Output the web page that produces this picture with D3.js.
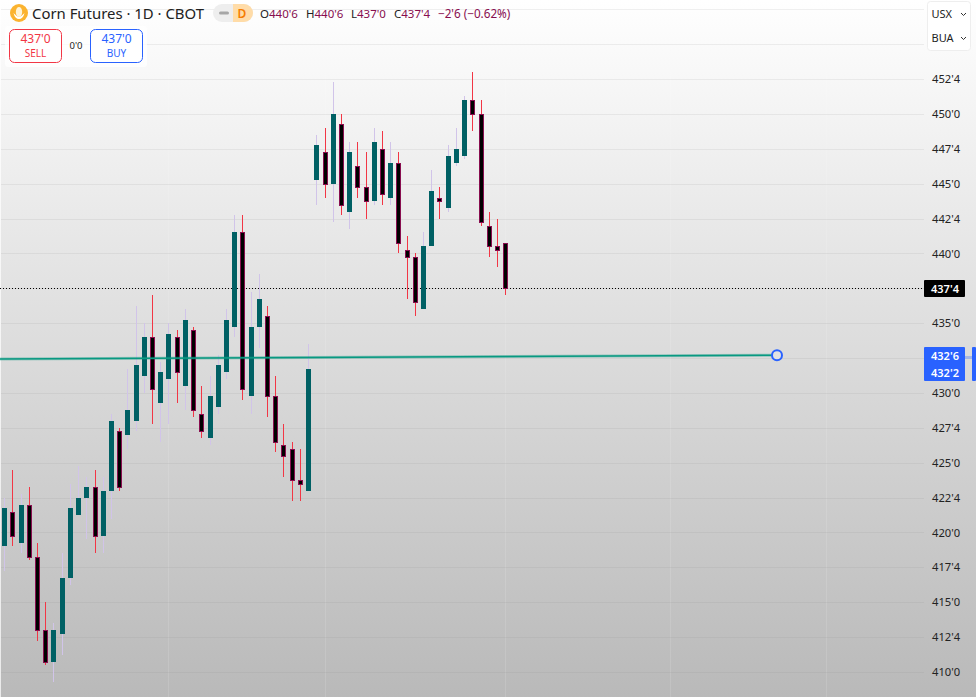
<!DOCTYPE html>
<html lang="en">
<head>
    <meta charset="UTF-8">
    <title>Corn Futures 1D CBOT</title>
    <script src="https://d3js.org/d3.v7.min.js"></script>
    <style>
        html, body { margin: 0; padding: 0; background: #fff; overflow: hidden; }
        svg { display: block; font-family: "Noto Sans", Arial, sans-serif; }
    </style>
</head>
<body>
    <script>
        // Candles in cents
        const opens = [419, 421.5, 419.25, 422, 418.25, 413, 410.75, 412.75, 416.75, 421.25, 422.5, 423.25, 419.75, 423, 427.25, 427, 428, 431.25, 434, 429.25, 431, 434, 430.5, 434.5, 428.5, 426.75, 429, 431.5, 434.75, 441.5, 429.75, 434.75, 435.5, 429.75, 426.25, 426, 423.75, 423, 445.25, 447.25, 445, 449.25, 443, 446.25, 444.75, 443.75, 447.5, 444, 446.5, 440.25, 439.75, 436, 440.5, 444, 443.25, 446.5, 447, 451, 450, 442, 440.5, 440.75];
        const highs = [422.5, 424.5, 422.75, 423.25, 419.25, 415, 413.5, 418.5, 423.5, 424.75, 424, 424.5, 424, 428.5, 427.5, 431.75, 436.25, 435, 437, 432.25, 435, 434.5, 436, 434.75, 430.5, 431.25, 432.75, 436, 442.75, 442.75, 437.25, 438.5, 436.25, 431.25, 427.75, 426.5, 426, 433.5, 448.5, 449, 452.25, 450, 448, 448, 447.25, 449, 448.75, 448, 447.25, 441.25, 440, 441.5, 446, 444.75, 447.75, 449, 451.25, 453, 451, 443, 442.5, 440.75];
        const lows = [417.25, 419, 418.5, 418, 412.25, 410.5, 409.25, 411.25, 416.25, 421.25, 419.5, 418.5, 418.5, 421, 423, 426, 427.25, 430, 427.75, 426.5, 427.75, 429.25, 428.75, 428.25, 426.75, 426.25, 428.5, 431, 434, 429.5, 428.5, 433.25, 428.25, 425.75, 424, 422.25, 422.25, 423, 443.5, 444, 442.25, 442.75, 441.75, 444, 442.5, 443.5, 443.5, 443.5, 440, 436.75, 435.5, 436, 440.5, 442.5, 443, 446.25, 446.75, 448.75, 442, 439.75, 439, 437];
        const closes = [421.75, 419.75, 422, 418.25, 413, 410.75, 413, 416.75, 421.75, 422.5, 423.25, 419.75, 423, 428, 423.25, 428.75, 432, 434, 430.25, 431.5, 434.25, 431.5, 435.25, 428.75, 427.25, 429.75, 432, 435.25, 441.5, 430.25, 434.75, 436.75, 429.75, 426.5, 425.5, 423.75, 423.5, 431.75, 447.75, 445, 450, 443.5, 447.25, 444.75, 443.75, 448, 444.25, 446.5, 440.75, 439.75, 436.5, 440.5, 444.5, 443.75, 447, 447.5, 451, 450, 442.25, 440.5, 440.25, 437.5];

        const tickPrices = [410, 412.5, 415, 417.5, 420, 422.5, 425, 427.5, 430, 435, 440, 442.5, 445, 447.5, 450, 452.5];
        const gridPrices = [410, 412.5, 415, 417.5, 420, 422.5, 425, 427.5, 430, 432.5, 435, 437.5, 440, 442.5, 445, 447.5, 450, 452.5, 455, 457.5];
        const trendPrices = [432.44, 432.7];
        const lastPrice = 437.5;
        const ohlcParts = [['O', "440'6"], ['H', "440'6"], ['L', "437'0"], ['C', "437'4"]];
        const vertLines = [168, 325, 505, 670, 826];

        const width = 976, height = 697;
        const upColor = '#006064', downBorder = '#880e4f';
        const upWick = '#d1c4e9', downWick = '#f23645', blue = '#2962ff';

        const svg = d3.select('body').append('svg')
            .attr('width', width)
            .attr('height', height);

        const defs = svg.append('defs');
        const grad = defs.append('linearGradient')
            .attr('id', 'bg').attr('x1', 0).attr('x2', 0).attr('y1', 0).attr('y2', 1);
        grad.append('stop').attr('offset', '0%').attr('stop-color', '#ffffff');
        grad.append('stop').attr('offset', '100%').attr('stop-color', '#b9b9b9');

        svg.append('rect').attr('width', width).attr('height', height).attr('fill', 'url(#bg)');
        svg.append('rect').attr('width', 1).attr('height', height).attr('fill', '#fff').attr('opacity', 0.7);

        // Scales
        const x = d3.scaleLinear().domain([0, closes.length - 1]).range([4.7, 505.7]);
        const y = d3.scaleLinear().domain([410, 452.5]).range([672, 79]);
        const cx = i => Math.floor(x(i)) + 0.5;
        const py = p => Math.round(y(p));

        // Grid
        svg.append('g').selectAll('line').data(vertLines).enter().append('line')
            .attr('x1', d => d + 0.5).attr('x2', d => d + 0.5)
            .attr('y1', 0).attr('y2', height)
            .attr('stroke', '#fff').attr('stroke-opacity', 0.12);
        svg.append('g').selectAll('line').data(gridPrices).enter().append('line')
            .attr('x1', 1).attr('x2', 924)
            .attr('y1', d => py(d) + 0.5).attr('y2', d => py(d) + 0.5)
            .attr('stroke', '#888').attr('stroke-opacity', 0.13);

        // Price axis
        const fmt = p => {
            const whole = Math.floor(p);
            return whole + "'" + Math.round((p - whole) * 8);
        };
        const axis = svg.append('g')
            .attr('transform', 'translate(924,0)')
            .call(d3.axisRight(y).tickValues(tickPrices).tickFormat(fmt).tickSize(0).tickPadding(8));
        axis.select('.domain').remove();
        axis.selectAll('text').attr('font-size', 11.2).attr('fill', '#222')
            .attr('font-family', '"Noto Sans", Arial, sans-serif');

        // Last price dotted line
        svg.append('line')
            .attr('x1', 0).attr('x2', 924)
            .attr('y1', py(lastPrice) + 0.5).attr('y2', py(lastPrice) + 0.5)
            .attr('stroke', '#000').attr('stroke-dasharray', '1 2');

        // Candles
        const idx = d3.range(closes.length);
        const candles = svg.append('g');
        candles.selectAll('.wick').data(idx).enter().append('line')
            .attr('class', 'wick')
            .attr('x1', cx).attr('x2', cx)
            .attr('y1', i => py(highs[i])).attr('y2', i => py(lows[i]))
            .attr('stroke', i => closes[i] >= opens[i] ? upWick : downWick);
        candles.selectAll('.body').data(idx).enter().append('rect')
            .attr('class', 'body')
            .attr('x', i => closes[i] >= opens[i] ? cx(i) - 2.5 : cx(i) - 2)
            .attr('width', i => closes[i] >= opens[i] ? 5 : 4)
            .attr('y', i => py(Math.max(opens[i], closes[i])) + (closes[i] >= opens[i] ? 0 : 0.5))
            .attr('height', i => Math.max(1, py(Math.min(opens[i], closes[i])) - py(Math.max(opens[i], closes[i]))))
            .attr('fill', i => closes[i] >= opens[i] ? upColor : '#000')
            .attr('stroke', i => closes[i] >= opens[i] ? 'none' : downBorder);

        // Trend line with its handle
        const trendX = [0, 777];
        svg.append('line')
            .attr('x1', trendX[0]).attr('x2', trendX[1])
            .attr('y1', y(trendPrices[0])).attr('y2', y(trendPrices[1]))
            .attr('stroke', '#089981').attr('stroke-opacity', 0.35).attr('stroke-width', 3);
        svg.append('line')
            .attr('x1', trendX[0]).attr('x2', trendX[1])
            .attr('y1', y(trendPrices[0])).attr('y2', y(trendPrices[1]))
            .attr('stroke', '#089981').attr('stroke-width', 1.5);
        svg.append('circle')
            .attr('cx', trendX[1]).attr('cy', y(trendPrices[1])).attr('r', 5)
            .attr('fill', '#e2e2e2').attr('stroke', blue).attr('stroke-width', 2);

        // Price labels on the right
        svg.append('rect').attr('x', 924).attr('y', 280).attr('width', 41).attr('height', 17).attr('rx', 1).attr('fill', '#000');
        svg.append('text').attr('x', 945).attr('y', 292.5).attr('text-anchor', 'middle')
            .attr('font-size', 11).attr('font-weight', 600).attr('fill', '#fff').text(fmt(lastPrice));
        svg.append('rect').attr('x', 924).attr('y', 347).attr('width', 41).attr('height', 34).attr('rx', 1).attr('fill', blue);
        svg.append('text').attr('x', 945).attr('y', 360).attr('text-anchor', 'middle')
            .attr('font-size', 11).attr('font-weight', 600).attr('fill', '#fff').text("432'6");
        svg.append('text').attr('x', 945).attr('y', 377).attr('text-anchor', 'middle')
            .attr('font-size', 11).attr('font-weight', 600).attr('fill', '#fff').text("432'2");
        svg.append('rect').attr('x', 965).attr('y', 356).attr('width', 7).attr('height', 3).attr('fill', blue).attr('opacity', 0.3);
        svg.append('rect').attr('x', 972).attr('y', 347).attr('width', 4).attr('height', 34).attr('rx', 1).attr('fill', blue);

        // Title bar
        const head = svg.append('g');
        head.append('circle').attr('cx', 19).attr('cy', 13).attr('r', 9).attr('fill', '#fbb32f');
        head.append('ellipse').attr('cx', 19).attr('cy', 12).attr('rx', 3.2).attr('ry', 5).attr('fill', '#fff3d6');
        head.append('path').attr('d', 'M13.5 13 Q15 19 19 19 Q23 19 24.5 13 Q22 16 19 17 Q16 16 13.5 13Z').attr('fill', '#fff');
        head.append('text').attr('x', 32).attr('y', 19).attr('font-size', 14.9).attr('fill', '#222')
            .text('Corn Futures · 1D · CBOT');
        head.append('rect').attr('x', 213).attr('y', 4).attr('width', 40).attr('height', 18).attr('rx', 9).attr('fill', '#eeeeee');
        head.append('path').attr('d', 'M233 4 H244 A9 9 0 0 1 244 22 H233 Z').attr('fill', '#ffdca8');
        head.append('rect').attr('x', 219).attr('y', 11.5).attr('width', 10).attr('height', 3).attr('rx', 1.5).attr('fill', '#a6a6a6');
        head.append('text').attr('x', 242).attr('y', 18).attr('text-anchor', 'middle')
            .attr('font-size', 12).attr('font-weight', 600).attr('fill', '#f57c00').text('D');

        // OHLC readout
        const partX = [260, 306, 351, 394];
        ohlcParts.forEach((d, i) => {
            const t = head.append('text').attr('x', partX[i]).attr('y', 18).attr('font-size', 11.5);
            t.append('tspan').attr('fill', '#222').text(d[0]);
            t.append('tspan').attr('fill', downBorder).text(d[1]);
        });
        head.append('text').attr('x', 438).attr('y', 18).attr('font-size', 11.7).attr('fill', downBorder)
            .text("−2'6 (−0.62%)");

        // Buy and sell buttons
        const trade = svg.append('g');
        trade.append('rect').attr('x', 5).attr('y', 26).attr('width', 142).attr('height', 41).attr('rx', 3).attr('fill', '#fff').attr('opacity', 0.75);
        const buttons = [[9.5, '#f23645', 'SELL'], [90.5, blue, 'BUY']];
        buttons.forEach(b => {
            trade.append('rect').attr('x', b[0]).attr('y', 29.5).attr('width', 52).attr('height', 33).attr('rx', 5)
                .attr('fill', '#fff').attr('stroke', b[1]);
            trade.append('text').attr('x', b[0] + 26).attr('y', 43).attr('text-anchor', 'middle')
                .attr('font-size', 12).attr('fill', b[1]).text("437'0");
            trade.append('text').attr('x', b[0] + 26).attr('y', 57).attr('text-anchor', 'middle')
                .attr('font-size', 10).attr('fill', b[1]).text(b[2]);
        });
        trade.append('text').attr('x', 76).attr('y', 49).attr('text-anchor', 'middle')
            .attr('font-size', 9.5).attr('fill', '#222').text("0'0");

        // Currency and unit selector
        const sel = svg.append('g');
        sel.append('rect').attr('x', 927.5).attr('y', 1.5).attr('width', 43).attr('height', 49).attr('rx', 3)
            .attr('fill', '#fff').attr('stroke', '#eeeeee');
        [['USX', 18], ['BUA', 42]].forEach(d => {
            sel.append('text').attr('x', 931.5).attr('y', d[1]).attr('font-size', 11).attr('fill', '#222').text(d[0]);
            sel.append('path').attr('d', `M961 ${d[1] - 5} l2.5 2.5 l2.5 -2.5`).attr('fill', 'none').attr('stroke', '#333');
        });
    </script>
</body>
</html>
